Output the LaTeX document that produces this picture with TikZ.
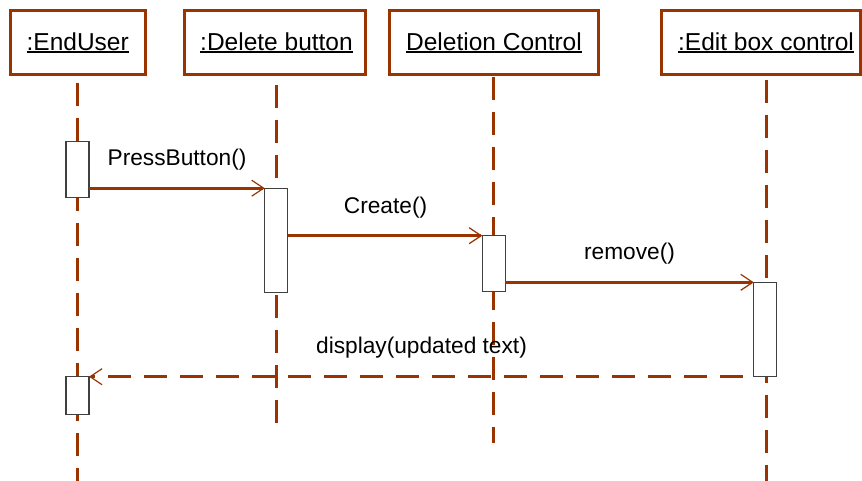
\documentclass[tikz,border=0pt]{standalone}
\usepackage{fontspec}
\setmainfont{Liberation Sans}
\usetikzlibrary{arrows.meta}
\definecolor{umlbrown}{RGB}{153,51,0}
% underlined object name with a slightly heavier rule
\newcommand{\objname}[1]{{\setbox0=\hbox{#1}\rlap{\rule[-2.6pt]{\wd0}{1.5pt}}\box0}}
\begin{document}
\begin{tikzpicture}[x=1pt,y=-1pt,
  obj/.style={draw=umlbrown, line width=3pt, fill=white, inner sep=0pt},
  objtext/.style={anchor=base, inner sep=0pt, font=\fontsize{24.5}{28}\selectfont},
  life/.style={draw=umlbrown, line width=3pt, dash pattern=on 23pt off 12pt},
  act/.style={draw=black!75, line width=1.2pt, fill=white, inner sep=0pt, outer sep=0pt, minimum width=23pt},
  msg/.style={draw=umlbrown, line width=3pt,
    -{Straight Barb[length=12pt,width=16pt,line width=1.2pt]}},
  ret/.style={msg, dash pattern=on 23pt off 13pt, dash phase=25pt},
  lbl/.style={anchor=base, inner sep=0pt, font=\fontsize{22.7}{26}\selectfont}]
\useasboundingbox (0,0) rectangle (862,480);

% object boxes
\node[obj, minimum width=135pt, minimum height=64pt] (h1) at (77.5,42) {};
\node[obj, minimum width=181pt, minimum height=64pt] (h2) at (274.5,42) {};
\node[obj, minimum width=209pt, minimum height=64pt] (h3) at (494,42) {};
\node[obj, minimum width=199pt, minimum height=64pt] (h4) at (760.5,42) {};
\node[objtext] (t1) at (77.7,50) {\objname{:EndUser}};
\node[objtext] (t2) at (276.5,50) {\objname{:Delete button}};
\node[objtext] (t3) at (494,50) {\objname{Deletion Control}};
\node[objtext] (t4) at (766,50) {\objname{:Edit box control}};

% lifelines
\coordinate (s1) at (77,83);   \coordinate (e1) at (77,482);
\coordinate (s2) at (276,85);  \coordinate (e2) at (276,423);
\coordinate (s3) at (493,77);  \coordinate (e3) at (493,443);
\coordinate (s4) at (766,80);  \coordinate (e4) at (766,482);
\draw[life] (s1) -- (e1);
\draw[life] (s2) -- (e2);
\draw[life] (s3) -- (e3);
\draw[life] (s4) -- (e4);

% activation bars
\node[act, minimum height=56pt]  (a1) at (77.5,169.7) {};
\node[act, minimum height=104pt] (a2) at (276.3,240.2) {};
\node[act, minimum height=56pt]  (a3) at (493.7,263.7) {};
\node[act, minimum height=94.4pt] (a4) at (765.3,329.5) {};
\node[act, minimum height=38pt]  (a5) at (77.5,395.7) {};

% messages
\draw[msg] (a1.east |- a2.north west) -- (a2.north west);
\draw[msg] (a2.east |- a3.north west) -- (a3.north west);
\draw[msg] (a3.east |- a4.north west) -- (a4.north west);
\draw[ret] (a4.south west) -- (a5.east |- a4.south west);

\node[lbl] (m1) at (177,165) {PressButton()};
\node[lbl] (m2) at (385.5,213) {Create()};
\node[lbl] (m3) at (629.5,259.5) {remove()};
\node[lbl] (m4) at (421.5,353.5) {display(updated text)};
\end{tikzpicture}
\end{document}
